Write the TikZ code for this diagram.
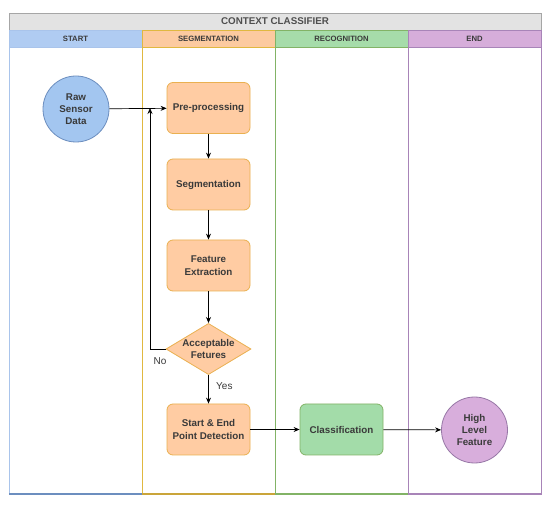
\documentclass[tikz,border=0pt]{standalone}
\usepackage{fontspec}
\setmainfont{Liberation Sans}
\usetikzlibrary{shapes.geometric,arrows.meta}
\definecolor{hdrblue}{HTML}{B0CCF2}
\definecolor{hdrorange}{HTML}{FCCAA0}
\definecolor{hdrgreen}{HTML}{A6DCAA}
\definecolor{hdrpurple}{HTML}{D6ADDA}
\definecolor{lnblue}{HTML}{A9C4EB}
\definecolor{lnblueb}{HTML}{6C8EBF}
\definecolor{lnorange}{HTML}{E0B840}
\definecolor{lngreen}{HTML}{82B366}
\definecolor{lnpurple}{HTML}{A884B8}
\definecolor{boxorange}{HTML}{FFCCA3}
\definecolor{boxorangeb}{HTML}{EAB050}
\definecolor{boxgreen}{HTML}{A3DCA9}
\definecolor{circblue}{HTML}{A3C6F0}
\definecolor{circpurple}{HTML}{D8AEDC}
\definecolor{titlegray}{HTML}{E3E3E3}
\definecolor{txtgray}{HTML}{3A3A3A}
\tikzset{
  proc/.style={draw=boxorangeb, fill=boxorange, rounded corners=6pt, line width=0.8pt,
    minimum width=83pt, minimum height=51pt, align=center, font=\bfseries\fontsize{9.8}{12.5}\selectfont, text=txtgray},
  greenbox/.style={proc, draw=lngreen, fill=boxgreen},
  decision/.style={diamond, draw=boxorangeb, fill=boxorange, line width=0.8pt, aspect=1.66,
    minimum width=83pt, minimum height=50pt, inner sep=0pt, align=center,
    font=\bfseries\fontsize{9.8}{12.5}\selectfont, text=txtgray},
  terminal/.style={circle, line width=0.8pt, minimum size=66pt, inner sep=0pt, align=center,
    font=\bfseries\fontsize{9.8}{12}\selectfont, text=txtgray},
  conn/.style={-{Stealth[length=6pt,width=5pt]}, line width=0.7pt, black},
  hdr/.style={font=\bfseries\fontsize{7.7}{9}\selectfont, text=txtgray},
  lbl/.style={font=\fontsize{10}{12}\selectfont, text=txtgray}
}
\begin{document}
\begin{tikzpicture}[x=1pt,y=-1pt]
\useasboundingbox (0,0) rectangle (550,508);
\fill[white] (0,0) rectangle (550,508);
% title
\draw[fill=titlegray, draw=gray!70] (9,13) rectangle (541,30);
\node[font=\bfseries\fontsize{9.8}{11}\selectfont, text=txtgray!90] (title) at (275,21.5) {CONTEXT CLASSIFIER};
% lanes
\draw[lnblue, line width=0.8pt] (9,47) rectangle (142,494);
\draw[lnorange, line width=0.8pt] (142,47) rectangle (275,494);
\draw[lngreen, line width=0.8pt] (275,47) rectangle (408,494);
\draw[lnpurple, line width=0.8pt] (408,47) rectangle (541,494);
\draw[lnblueb, line width=2pt] (9,494) -- (142,494);
\draw[lnorange!90!black, line width=2pt] (142,494) -- (275,494);
\draw[lngreen, line width=2pt] (275,494) -- (408,494);
\draw[lnpurple, line width=2pt] (408,494) -- (541,494);
% headers
\draw[fill=hdrblue, draw=lnblue, line width=0.8pt] (9,30) rectangle (142,47);
\draw[fill=hdrorange, draw=lnorange, line width=0.8pt] (142,30) rectangle (275,47);
\draw[fill=hdrgreen, draw=lngreen, line width=0.8pt] (275,30) rectangle (408,47);
\draw[fill=hdrpurple, draw=lnpurple, line width=0.8pt] (408,30) rectangle (541,47);
\node[hdr] (h1) at (75.5,38.5) {START};
\node[hdr] (h2) at (208.5,38.5) {SEGMENTATION};
\node[hdr] (h3) at (341.5,38.5) {RECOGNITION};
\node[hdr] (h4) at (474.5,38.5) {END};
% nodes
\node[terminal, draw=lnblueb, fill=circblue] (raw) at (76,109) {Raw\\Sensor\\Data};
\node[proc] (pre) at (208.5,108) {Pre-processing};
\node[proc] (seg) at (208.5,184.5) {Segmentation};
\node[proc] (fe) at (208.5,265.5) {Feature\\Extraction};
\node[decision] (acc) at (208.5,349) {Acceptable\\Fetures};
\node[proc] (sep) at (208.5,429.5) {Start \& End\\Point Detection};
\node[greenbox] (cls) at (341.5,429.5) {Classification};
\node[terminal, draw=lnpurple!90!black, fill=circpurple] (hlf) at (474.5,430) {High\\Level\\Feature};
\coordinate (fb) at (150,108);
% connectors
\draw[conn] (raw) -- (pre);
\draw[conn] (pre) -- (seg);
\draw[conn] (seg) -- (fe);
\draw[conn] (fe) -- (acc);
\draw[conn] (acc) -- node[lbl, right, pos=0.4, xshift=4pt] {Yes} (sep);
\draw[conn] (acc.west) -| (fb);
\node[lbl] (no) at (160,361) {No};
\draw[conn] (sep) -- (cls);
\draw[conn] (cls) -- (hlf);
\end{tikzpicture}
\end{document}
